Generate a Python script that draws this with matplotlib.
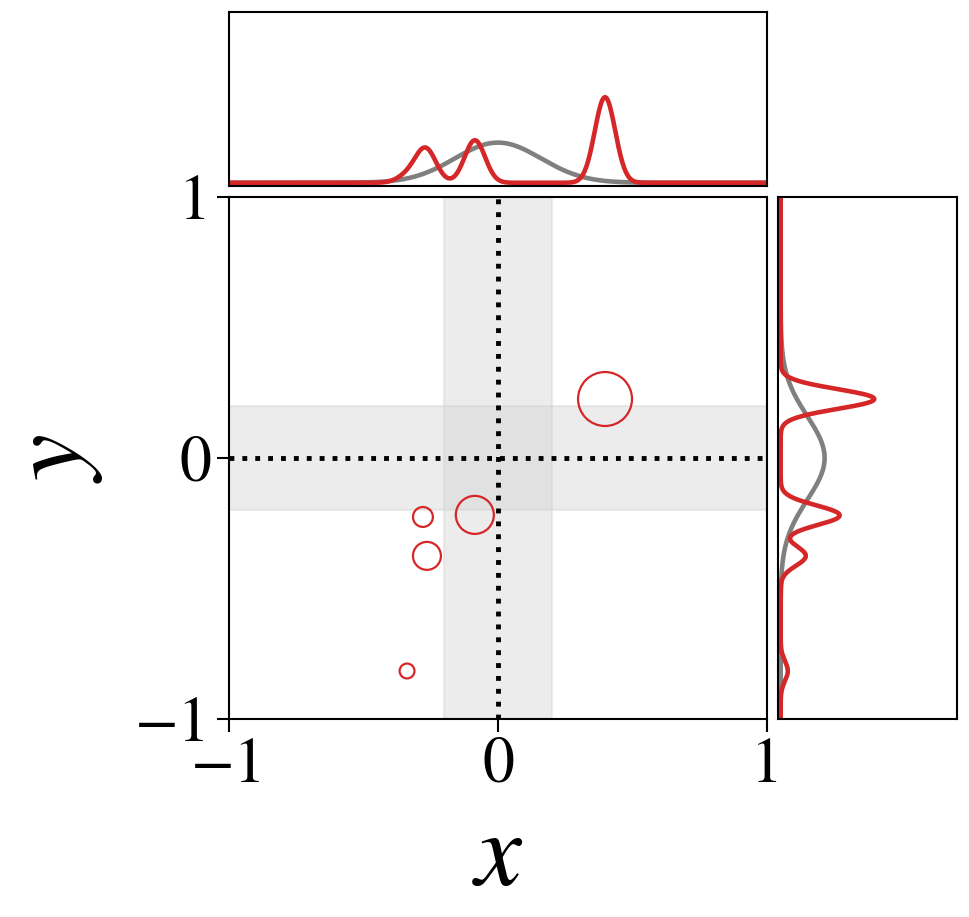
import numpy as np
import matplotlib
matplotlib.use("Agg")
import matplotlib.pyplot as plt

plt.rcParams['mathtext.fontset'] = 'stix'
plt.rcParams['font.family'] = 'STIXGeneral'

# sample points (position + weight shown as marker area)
pts_x = [0.398, -0.086, -0.279, -0.264, -0.338]
pts_y = [0.226, -0.218, -0.226, -0.375, -0.816]
pts_w = [1510, 750, 205, 405, 115]

# prior (grey) and kde bandwidth for the red curves
prior_mu = 0.0
prior_sd = 0.16
kde_bw = 0.038
band = 0.2

RED = '#d62728'


def gauss(t, mu, sd):
    return np.exp(-0.5 * ((t - mu) / sd) ** 2) / (sd * np.sqrt(2 * np.pi))


def weighted_kde(t, centers, weights, bw):
    w = np.asarray(weights, float)
    dens = sum(wi * gauss(t, c, bw) for c, wi in zip(centers, w))
    return dens / w.sum()


fig = plt.figure(figsize=(9.69, 9.17), dpi=100)
ax = fig.add_axes([0.2363, 0.2159, 0.5552, 0.5693])
ax_top = fig.add_axes([0.2363, 0.7972, 0.5552, 0.1897])
ax_right = fig.add_axes([0.8029, 0.2159, 0.1847, 0.5693])

# main scatter
ax.axvspan(-band, band, color='lightgray', alpha=0.43, lw=1.5, zorder=0)
ax.axhspan(-band, band, color='lightgray', alpha=0.43, lw=1.5, zorder=0)
ax.axvline(0, color='black', ls=':', lw=3.5, zorder=1)
ax.axhline(0, color='black', ls=':', lw=3.5, zorder=1)
ax.scatter(pts_x, pts_y, s=pts_w, facecolors='none', edgecolors=RED,
           linewidths=1.6, zorder=3)
ax.set_xlim(-1, 1)
ax.set_ylim(-1, 1)
ax.set_xticks([-1, 0, 1])
ax.set_yticks([-1, 0, 1])
ax.tick_params(labelsize=46, length=9, width=1.5, pad=4)
ax.set_xlabel('$x$', fontsize=76, labelpad=12)
ax.set_ylabel('$y$', fontsize=76, labelpad=22)
for sp in ax.spines.values():
    sp.set_linewidth(1.5)

grid = np.linspace(-1, 1, 600)

# top marginal
ax_top.plot(grid, gauss(grid, prior_mu, prior_sd), color='gray', lw=3.3)
ax_top.plot(grid, weighted_kde(grid, pts_x, pts_w, kde_bw), color=RED, lw=3.3)
ax_top.set_xlim(-1, 1)
ax_top.set_ylim(-0.2, 10.6)
ax_top.set_xticks([])
ax_top.set_yticks([])

# right marginal
ax_right.plot(gauss(grid, prior_mu, prior_sd), grid, color='gray', lw=3.3)
ax_right.plot(weighted_kde(grid, pts_y, pts_w, kde_bw), grid, color=RED, lw=3.3)
ax_right.set_ylim(-1, 1)
ax_right.set_xlim(-0.15, 10)
ax_right.set_xticks([])
ax_right.set_yticks([])

for a in (ax_top, ax_right):
    for sp in a.spines.values():
        sp.set_linewidth(1.5)

fig.savefig('out.png', dpi=100)
